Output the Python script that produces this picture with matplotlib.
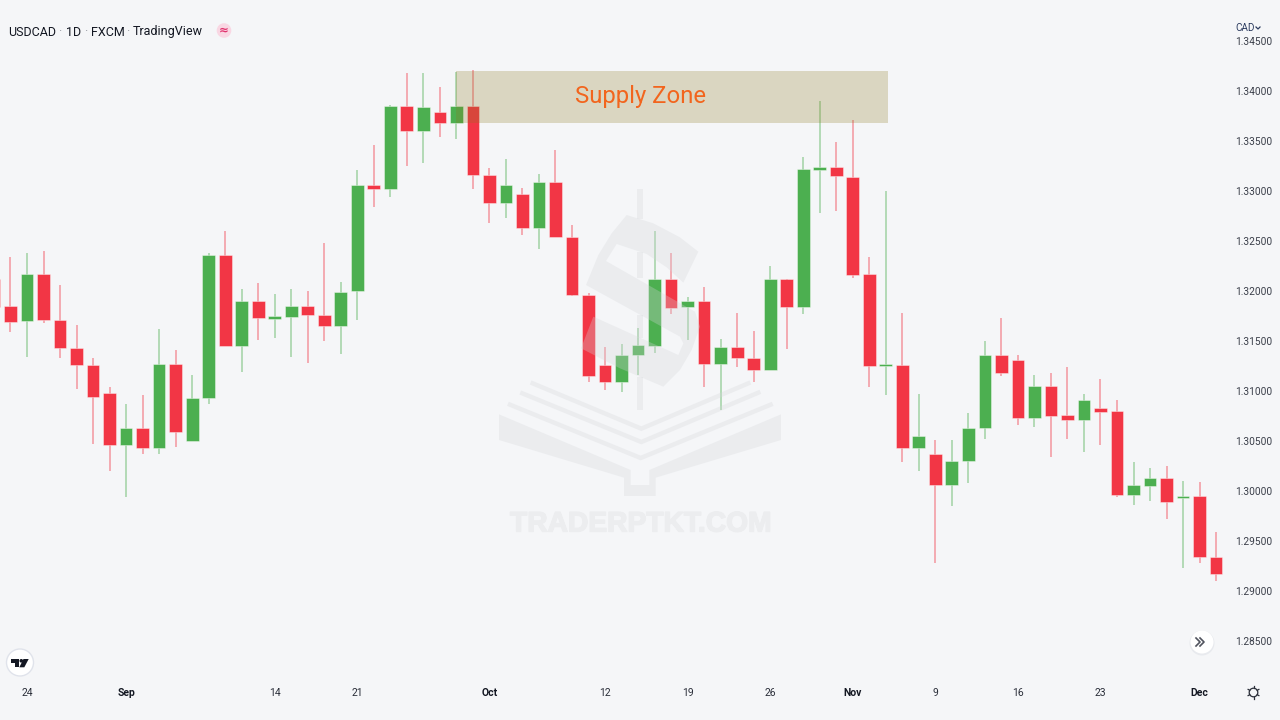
import numpy as np
import matplotlib
matplotlib.use('Agg')
import matplotlib.pyplot as plt
import matplotlib.patheffects as pe
from matplotlib.patches import Polygon, Circle, Rectangle

plt.rcParams['font.family'] = ['Roboto', 'DejaVu Sans']

# USDCAD daily, first bar sits just off the left edge
opens = [1.32117, 1.31850, 1.31700, 1.32170, 1.31710, 1.31430, 1.31263, 1.30983, 1.30460, 1.30630,
         1.30433, 1.31270, 1.30500, 1.30927, 1.32363, 1.31447, 1.31903, 1.31723, 1.31743, 1.31850,
         1.31763, 1.31650, 1.32005, 1.33063, 1.33017, 1.33850, 1.33603, 1.33793, 1.33677, 1.33850,
         1.33163, 1.32877, 1.32970, 1.32630, 1.33090, 1.32543, 1.31963, 1.31263, 1.31093, 1.31360,
         1.31453, 1.32123, 1.31843, 1.31903, 1.31267, 1.31443, 1.31330, 1.31210, 1.32117, 1.31837,
         1.33207, 1.33243, 1.33143, 1.32167, 1.31250, 1.31263, 1.30433, 1.30370, 1.30060, 1.30300,
         1.30627, 1.31363, 1.31310, 1.30733, 1.31050, 1.30757, 1.30713, 1.30830, 1.30797, 1.29960,
         1.30053, 1.30130, 1.29933, 1.29950, 1.29337]
highs = [1.32250, 1.32343, 1.32383, 1.32397, 1.32057, 1.31663, 1.31330, 1.31043, 1.30870, 1.30957,
         1.31623, 1.31410, 1.31163, 1.32383, 1.32597, 1.32023, 1.32077, 1.31970, 1.32023, 1.32003,
         1.32477, 1.32090, 1.33210, 1.33463, 1.33857, 1.34183, 1.34183, 1.34037, 1.34190, 1.34210,
         1.33230, 1.33317, 1.33030, 1.33170, 1.33410, 1.32660, 1.31983, 1.31437, 1.31470, 1.31627,
         1.32597, 1.32377, 1.31937, 1.32043, 1.31523, 1.31777, 1.31603, 1.32250, 1.32120, 1.33343,
         1.33900, 1.33493, 1.33710, 1.32343, 1.32997, 1.31783, 1.30970, 1.30510, 1.30510, 1.30777,
         1.31497, 1.31730, 1.31357, 1.31163, 1.31177, 1.31237, 1.30970, 1.31123, 1.30910, 1.30290,
         1.30230, 1.30250, 1.30097, 1.30090, 1.29590]
lows = [1.31750, 1.31593, 1.31343, 1.31677, 1.31327, 1.31017, 1.30473, 1.30203, 1.29943, 1.30373,
        1.30373, 1.30443, 1.30500, 1.30867, 1.31447, 1.31190, 1.31510, 1.31530, 1.31343, 1.31277,
        1.31503, 1.31370, 1.31710, 1.32837, 1.32943, 1.33250, 1.33283, 1.33543, 1.33523, 1.33017,
        1.32677, 1.32730, 1.32557, 1.32423, 1.32537, 1.31950, 1.31093, 1.31010, 1.30990, 1.31163,
        1.31377, 1.31770, 1.31510, 1.31043, 1.30810, 1.31237, 1.31090, 1.31210, 1.31423, 1.31770,
        1.32783, 1.32797, 1.32130, 1.31043, 1.30957, 1.30287, 1.30200, 1.29283, 1.29850, 1.30083,
        1.30517, 1.31150, 1.30657, 1.30637, 1.30343, 1.30523, 1.30390, 1.30457, 1.29943, 1.29863,
        1.29903, 1.29717, 1.29230, 1.29277, 1.29100]
closes = [1.31843, 1.31690, 1.32170, 1.31707, 1.31427, 1.31260, 1.30940, 1.30460, 1.30630, 1.30433,
          1.31270, 1.30593, 1.30930, 1.32363, 1.31447, 1.31903, 1.31727, 1.31750, 1.31850, 1.31757,
          1.31650, 1.31990, 1.33063, 1.33017, 1.33850, 1.33603, 1.33843, 1.33677, 1.33850, 1.33157,
          1.32877, 1.33063, 1.32630, 1.33090, 1.32537, 1.31957, 1.31153, 1.31093, 1.31363, 1.31457,
          1.32123, 1.31833, 1.31903, 1.31267, 1.31443, 1.31327, 1.31210, 1.32117, 1.31837, 1.33217,
          1.33243, 1.33150, 1.32157, 1.31250, 1.31267, 1.30433, 1.30550, 1.30060, 1.30303, 1.30630,
          1.31363, 1.31180, 1.30733, 1.31050, 1.30753, 1.30713, 1.30910, 1.30793, 1.29960, 1.30057,
          1.30130, 1.29887, 1.29950, 1.29337, 1.29167]

x_ticks = [0, 6, 15, 20, 28, 35, 40, 45, 50, 55, 60, 65, 71]
x_labels = ['24', 'Sep', '14', '21', 'Oct', '12', '19', '26', 'Nov', '9', '16', '23', 'Dec']
month_labels = ['Sep', 'Oct', 'Nov', 'Dec']
y_ticks = [1.285, 1.29, 1.295, 1.30, 1.305, 1.31, 1.315, 1.32, 1.325, 1.33, 1.335, 1.34, 1.345]

zone_x = [25.98, 52.13]
zone_y = [1.3368, 1.3420]

BG = '#F5F6F8'
GREEN = '#4CAF50'
RED = '#F23645'
INK = '#131722'
WM = (0.83, 0.84, 0.85)
STEP = 16.515

bars = np.arange(len(opens)) - 2
opens = np.array(opens)
closes = np.array(closes)
colors = [GREEN if c >= o else RED for o, c in zip(opens, closes)]

fig = plt.figure(figsize=(12.8, 7.2), dpi=100, facecolor=BG)
ax = fig.add_axes([0, 40 / 720, 1224 / 1280, 680 / 720], facecolor=BG)

ax.vlines(bars, lows, highs, colors=colors, linewidth=1.1, alpha=0.5, zorder=2)
ax.bar(bars, np.abs(closes - opens), bottom=np.minimum(opens, closes), width=0.77,
       color=colors, edgecolor=(1, 1, 1, 0.45), linewidth=0.6, zorder=3)

ax.add_patch(Rectangle((zone_x[0], zone_y[0]), zone_x[1] - zone_x[0], zone_y[1] - zone_y[0],
                       facecolor=(141 / 255, 119 / 255, 30 / 255), alpha=0.25, linewidth=0, zorder=4))

ax.set_xlim(-27 / STEP, (1224 - 27) / STEP)
ax.set_ylim(1.3491 - 680 / 10000, 1.3491)
ax.yaxis.tick_right()
ax.set_yticks(y_ticks)
ax.set_yticklabels(['%.5f' % v for v in y_ticks])
ax.set_xticks(x_ticks)
ax.set_xticklabels(x_labels)
ax.tick_params(axis='y', length=0, pad=8.2, labelsize=7.3, labelcolor='#3b3f4a')
ax.tick_params(axis='x', length=0, pad=5.8, labelsize=7.5, labelcolor='#2a2e39')
for lab in ax.get_xticklabels():
    if lab.get_text() in month_labels:
        lab.set_fontweight('bold')
        lab.set_color(INK)
for s in ax.spines.values():
    s.set_visible(False)

# overlay in pixel coords for the watermark and the TradingView furniture
top = fig.add_axes([0, 0, 1, 1], zorder=5)
top.set_xlim(0, 1280)
top.set_ylim(720, 0)
top.axis('off')
top.patch.set_alpha(0)


def wm_pts(pts):
    return [(480 + a / 3, 180 + b / 3) for a, b in pts]


def wm_poly(pts):
    top.add_patch(Polygon(wm_pts(pts), closed=True, facecolor=WM, edgecolor='none', alpha=0.3))


book = [(57, 703), (452, 870), (452, 915), (508, 915), (508, 870), (903, 703), (903, 780),
        (527, 893), (527, 948), (432, 948), (432, 893), (57, 780)]
dollar = [(655, 215), (600, 172), (520, 130), (440, 105), (395, 160), (355, 225), (318, 315),
          (600, 470), (610, 490), (595, 525), (340, 410), (303, 505), (420, 565), (550, 620),
          (600, 570), (635, 510), (660, 440), (645, 395), (378, 243), (410, 192), (500, 222), (560, 262), (610, 308)]
wm_poly(book)
wm_poly(dollar)
for y0, y1 in [(28, 118), (215, 295), (404, 473), (590, 690)]:
    wm_poly([(471, y0), (490, y0), (490, y1), (471, y1)])
for chev in ([(90, 674), (482, 834), (872, 674)],
             [(127, 640), (484, 786), (835, 638)],
             [(158, 610), (484, 746), (805, 610)]):
    p = np.array(wm_pts(chev))
    top.plot(p[:, 0], p[:, 1], color=WM, alpha=0.3, lw=3.2, solid_joinstyle='miter')

top.text(641, 524.5, 'TRADERPTKT.COM', family='Liberation Sans', fontweight='bold', fontsize=20.3,
         color='#ECEDEF', ha='center', va='center',
         path_effects=[pe.withStroke(linewidth=1.0, foreground='#ECEDEF')])

top.text(640.5, 96, 'Supply Zone', fontsize=17.2, color='#F2651D', ha='center', va='center')

# header
for tx, s, col in [(8, 'USDCAD', INK), (58, '·', '#9598A1'), (66, '1D', INK), (84, '·', '#9598A1'),
                   (91, 'FXCM', INK), (126, '·', '#9598A1'), (133, 'TradingView', INK)]:
    top.text(tx, 35.5, s, fontsize=9.0, color=col, ha='left', va='baseline')
top.add_patch(Circle((224, 30.5), 7.3, facecolor='#F9D7E3', edgecolor='none'))
top.text(224, 30, '≈', family='DejaVu Sans', fontsize=8.5, fontweight='bold', color='#E0336E',
         ha='center', va='center')

top.text(1235.5, 28, 'CAD', fontsize=7.2, color='#2a3a5e', ha='left', va='center')
top.plot([1256, 1258, 1260], [27, 29, 27], color='#2a3a5e', lw=0.9)

# TV logo
top.add_patch(Circle((20, 662.5), 13.5, facecolor='white', edgecolor='#E0E3EB', linewidth=1))
top.add_patch(Polygon([(10.7, 659), (18.7, 659), (18.7, 667.3), (14.7, 667.3), (14.7, 662.7), (10.7, 662.7)],
                      facecolor=INK, edgecolor='none'))
top.add_patch(Circle((21.3, 660.8), 1.8, facecolor=INK, edgecolor='none'))
top.add_patch(Polygon([(23.5, 659), (28.7, 659), (24.3, 667.3), (19.3, 667.3)], facecolor=INK, edgecolor='none'))

# scroll to latest button
top.add_patch(Circle((1202, 643), 12.5, facecolor='#E3E5EA', edgecolor='none', alpha=0.7))
top.add_patch(Circle((1202, 642), 11.5, facecolor='white', edgecolor='none'))
for dx in (-3, 1):
    top.plot([1199 + dx, 1203 + dx, 1199 + dx], [638, 642, 646], color='#50535E', lw=1.2)

# settings gear
top.add_patch(Circle((1253.5, 692.5), 4.3, facecolor='none', edgecolor='#2a2e39', linewidth=0.9))
for a in np.arange(0, 360, 60) + 30:
    ca, sa = np.cos(np.radians(a)), np.sin(np.radians(a))
    top.plot([1253.5 + 4.3 * ca, 1253.5 + 6.2 * ca], [692.5 + 4.3 * sa, 692.5 + 6.2 * sa],
             color='#2a2e39', lw=0.9)

fig.savefig('out.png', dpi=100, facecolor=BG)
